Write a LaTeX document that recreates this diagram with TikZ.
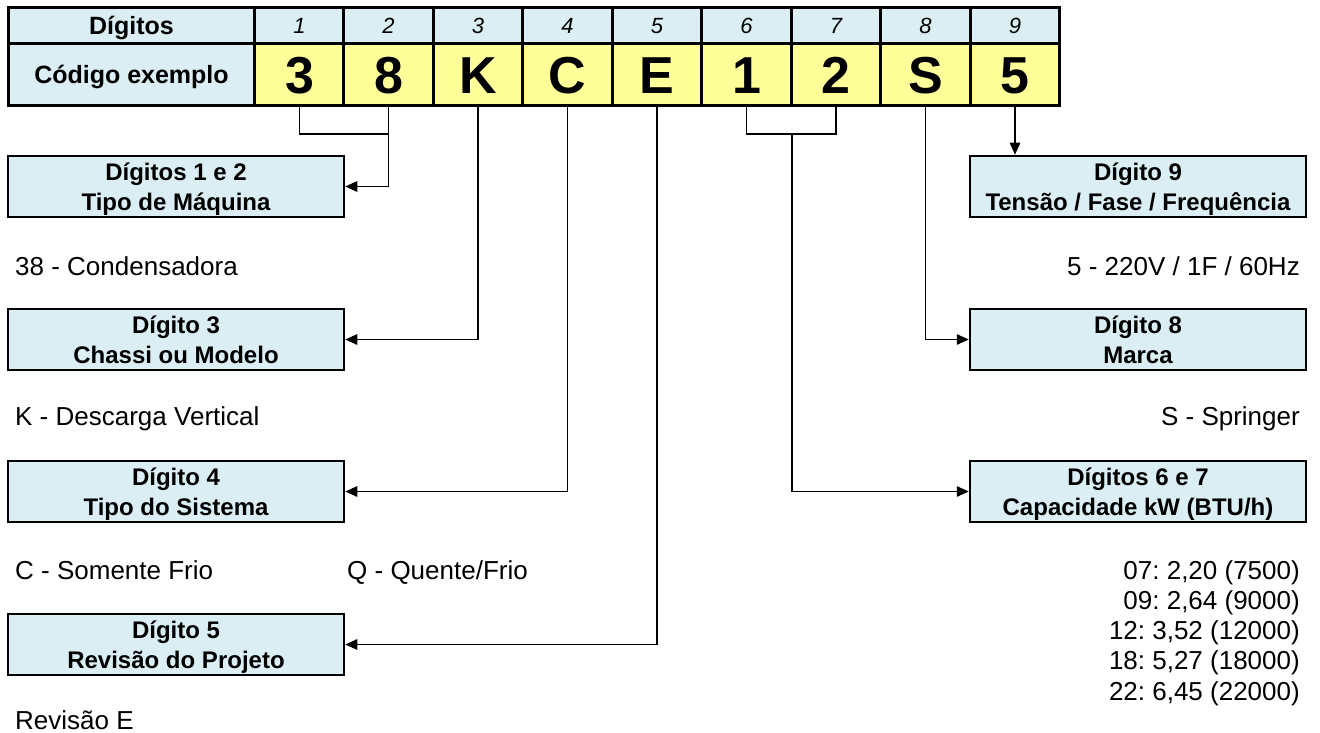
\documentclass[tikz,border=0pt]{standalone}
\usepackage{fontspec}
\setmainfont{Liberation Sans}
\usetikzlibrary{arrows.meta}
\definecolor{hdr}{HTML}{DAEEF3}
\definecolor{yel}{HTML}{FFFF99}
\newcommand{\tl}[2]{\rule{0pt}{24pt}#1\\#2\rule[-6.8pt]{0pt}{6.8pt}}
\begin{document}
\frenchspacing
\begin{tikzpicture}[x=1pt,y=-1pt,
  cell/.style={draw=black,line width=3pt,inner sep=0pt},
  hcell/.style={cell,fill=hdr,minimum height=36pt,minimum width=89.5pt,
    font=\fontsize{22}{22}\itshape,text height=16pt,text depth=0pt},
  ccell/.style={cell,fill=yel,minimum height=62pt,minimum width=89.5pt,
    font=\fontsize{52}{52}\bfseries,text height=37.5pt,text depth=0pt},
  lbox/.style={draw=black,line width=2.5pt,fill=hdr,minimum width=336pt,
    minimum height=61pt,inner sep=0pt,align=center,
    font=\fontsize{24}{30}\selectfont\bfseries},
  conn/.style={line width=1.4pt},
  arr/.style={conn,-{Triangle[length=12pt,width=10.5pt]}},
  lab/.style={font=\fontsize{26}{30.25}\selectfont,inner sep=0pt}
]
\useasboundingbox (0,0) rectangle (1320,733);
% table
\node[hcell,minimum width=247pt,font=\fontsize{25}{25}\bfseries,text height=18pt] (h0) at (131.5,26) {Dígitos};
\node[ccell,minimum width=247pt,fill=hdr,font=\fontsize{25}{25}\bfseries,text height=18pt] (c0) at (131.5,75) {Código exemplo};
\foreach \i/\l/\x in {1/3/299.5,2/8/388.5,3/K/478,4/C/567.5,5/E/657,6/1/746.5,7/2/836,8/S/925.5,9/5/1015}{
  \node[hcell] (h\i) at (\x,26) {\i};
  \node[ccell] (c\i) at (\x,75) {\l};
}
% boxes left
\node[lbox] (b12) at (176,186.5) {\tl{Dígitos 1 e 2}{Tipo de Máquina}};
\node[lbox] (b3) at (176,339.5) {\tl{Dígito 3}{Chassi ou Modelo}};
\node[lbox] (b4) at (176,491.5) {\tl{Dígito 4}{Tipo do Sistema}};
\node[lbox] (b5) at (176,644.5) {\tl{Dígito 5}{Revisão do Projeto}};
% boxes right
\node[lbox] (b9) at (1138,186.5) {\tl{Dígito 9}{Tensão / Fase / Frequência}};
\node[lbox] (b8) at (1138,339.5) {\tl{Dígito 8}{Marca}};
\node[lbox] (b67) at (1138,491.5) {\tl{Dígitos 6 e 7}{Capacidade kW (BTU/h)}};
% labels
\node[lab,anchor=base west] (t12) at (15,275) {38 - Condensadora};
\node[lab,anchor=base west] (t3) at (15,425) {K - Descarga Vertical};
\node[lab,anchor=base west] (t4a) at (15,579) {C - Somente Frio};
\node[lab,anchor=base west] (t4b) at (347,579) {Q - Quente/Frio};
\node[lab,anchor=base west] (t5) at (15,729) {Revisão E};
\node[lab,anchor=base east] (t9) at (1300,275) {5 - 220V / 1F / 60Hz};
\node[lab,anchor=base east] (t8) at (1300,425) {S - Springer};
\node[lab,anchor=base east,align=right] (t67) at (1300,700) {07: 2,20 (7500)\\09: 2,64 (9000)\\12: 3,52 (12000)\\18: 5,27 (18000)\\22: 6,45 (22000)};
% connectors
\coordinate (j12) at (388.5,134);
\coordinate (j67) at (792,134);
\draw[conn] (c1.south) |- (j12);
\draw[arr] (c2.south) |- (b12.east);
\draw[arr] (c3.south) |- (b3.east);
\draw[arr] (c4.south) |- (b4.east);
\draw[arr] (c5.south) |- (b5.east);
\draw[conn] (c6.south) |- (c7.south |- j67) -- (c7.south);
\draw[arr] (j67) |- (b67.west);
\draw[arr] (c8.south) |- (b8.west);
\draw[arr] (c9.south) -- (c9.south |- b9.north);
\end{tikzpicture}
\end{document}
